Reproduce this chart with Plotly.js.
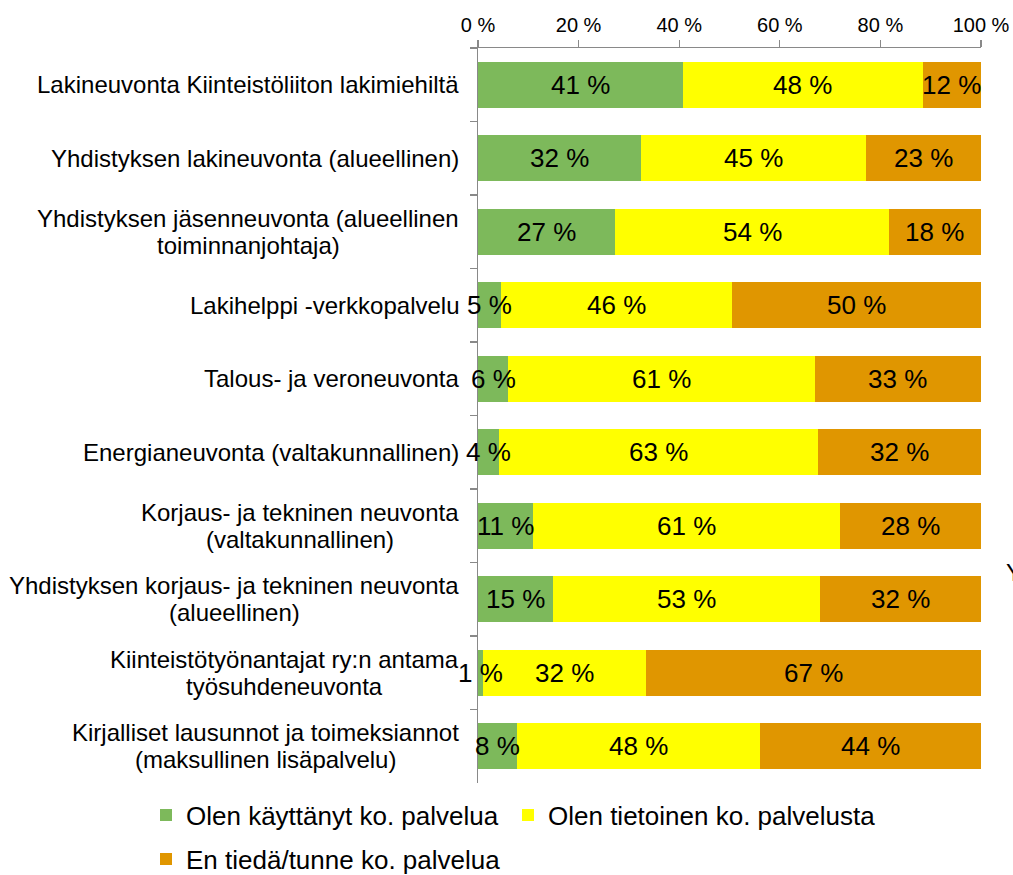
<!DOCTYPE html>
<html><head><meta charset="utf-8">
<script src="https://cdn.plot.ly/plotly-3.0.1.min.js"></script>
<style>html,body{margin:0;padding:0;background:#fff}#chart{width:1013px;height:875px}</style>
</head><body><div id="chart"></div>
<script>
const categories = [
  "Lakineuvonta Kiinteistöliiton lakimiehiltä",
  "Yhdistyksen lakineuvonta (alueellinen)",
  "Yhdistyksen jäsenneuvonta (alueellinen<br>toiminnanjohtaja)",
  "Lakihelppi -verkkopalvelu",
  "Talous- ja veroneuvonta",
  "Energianeuvonta (valtakunnallinen)",
  "Korjaus- ja tekninen neuvonta<br>(valtakunnallinen)",
  "Yhdistyksen korjaus- ja tekninen neuvonta<br>(alueellinen)",
  "Kiinteistötyönantajat ry:n antama<br>työsuhdeneuvonta",
  "Kirjalliset lausunnot ja toimeksiannot<br>(maksullinen lisäpalvelu)"
];
const usedValues    = [40.8, 32.4, 27.3, 4.6, 6.0, 4.2, 11.0, 14.9, 1.0, 7.8];
const awareValues   = [47.6, 44.7, 54.4, 45.8, 60.9, 63.4, 60.9, 53.0, 32.3, 48.2];
const unknownValues = [11.6, 22.9, 18.3, 49.6, 33.1, 32.4, 28.1, 32.1, 66.7, 44.0];
const seriesNames = ["Olen käyttänyt ko. palvelua", "Olen tietoinen ko. palvelusta", "En tiedä/tunne ko. palvelua"];
const tickValues = [0, 20, 40, 60, 80, 100];
const tickLabels = ["0 %", "20 %", "40 %", "60 %", "80 %", "100 %"];

const colors = ["#7DB95B", "#FFFF00", "#E09600"];
const FONT = "'Liberation Sans', Arial, sans-serif";
const series = [usedValues, awareValues, unknownValues];
const legendIds = ["legend", "legend2", "legend3"];

const traces = series.map((vals, k) => ({
  type: "bar", orientation: "h",
  name: seriesNames[k],
  x: vals, y: categories,
  marker: {color: colors[k], line: {width: 0}},
  hoverinfo: "none",
  legend: legendIds[k]
}));

const annotations = [];
// data labels
categories.forEach((c, i) => {
  let cum = 0;
  series.forEach((vals) => {
    const v = vals[i];
    annotations.push({
      x: cum + v / 2, y: c, xref: "x", yref: "y",
      text: Math.round(v) + " %", showarrow: false,
      font: {family: FONT, size: 26, color: "#000"}
    });
    cum += v;
  });
});
// category labels (centered lines, right-aligned block)
const cv = document.createElement("canvas").getContext("2d");
cv.font = "24px 'Liberation Sans', Arial, sans-serif";
categories.forEach((c) => {
  const lines = c.split("<br>");
  const maxW = Math.max(...lines.map(l => cv.measureText(l).width));
  lines.forEach((l, j) => {
    annotations.push({
      x: 0, xref: "paper", y: c, yref: "y",
      xshift: -19 - maxW / 2, xanchor: "center",
      yshift: ((lines.length - 1) / 2 - j) * 27,
      text: l, showarrow: false,
      font: {family: FONT, size: 24, color: "#000"}
    });
  });
});
annotations.push({
  x: 1, xref: "paper", xshift: 23, xanchor: "left",
  y: 0.265, yref: "paper", text: "Y", showarrow: false,
  font: {family: FONT, size: 24, color: "#000"}
});

const axisColor = "#898989";
const legendBase = {
  orientation: "h", xref: "container", yref: "container",
  xanchor: "left", yanchor: "middle",
  font: {family: FONT, size: 26, color: "#000"}, bgcolor: "rgba(0,0,0,0)"
};
const layout = {
  width: 1013, height: 875,
  margin: {l: 478, r: 32, t: 48, b: 92},
  paper_bgcolor: "#fff", plot_bgcolor: "#fff",
  font: {family: FONT, color: "#000"},
  barmode: "stack", bargap: 0.38,
  xaxis: {
    side: "top", range: [0, 100], tickvals: tickValues, ticktext: tickLabels,
    ticks: "outside", ticklen: 7, tickwidth: 1.3, tickcolor: axisColor,
    showline: true, linecolor: axisColor, linewidth: 1.3,
    showgrid: false, zeroline: false,
    tickfont: {family: FONT, size: 20, color: "#000"}, fixedrange: true
  },
  yaxis: {
    type: "category", autorange: "reversed",
    showline: true, linecolor: axisColor, linewidth: 1.3,
    ticks: "outside", tickson: "boundaries", ticklen: 7, tickwidth: 1.3, tickcolor: axisColor,
    showticklabels: false, showgrid: false, zeroline: false, fixedrange: true
  },
  showlegend: true,
  legend:  Object.assign({}, legendBase, {x: 146 / 1013, y: 1 - 815 / 875}),
  legend2: Object.assign({}, legendBase, {x: 508 / 1013, y: 1 - 815 / 875}),
  legend3: Object.assign({}, legendBase, {x: 146 / 1013, y: 1 - 859 / 875}),
  annotations: annotations
};

Plotly.newPlot("chart", traces, layout, {displayModeBar: false, staticPlot: true});
</script>
</body></html>
